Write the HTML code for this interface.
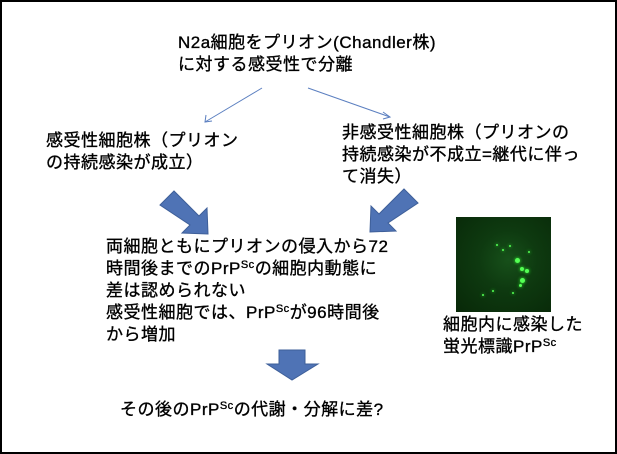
<!DOCTYPE html>
<html><head><meta charset="utf-8"><style>
body{margin:0;width:617px;height:454px;background:#fff;position:relative;overflow:hidden;font-family:"Liberation Sans","Noto Sans CJK JP",sans-serif;}
.frame{position:absolute;left:0;top:0;width:613px;height:450px;border:2px solid #000;}
.t{position:absolute;font-size:17px;line-height:22px;color:#000;white-space:nowrap;letter-spacing:0.5px;-webkit-text-stroke:0.35px #000;}
sup{font-size:11px;line-height:0;vertical-align:6px;}
.img{position:absolute;left:456px;top:217px;width:95px;height:95px;background:radial-gradient(circle at 55% 45%,#17501a 0%,#0e3a10 40%,#082808 100%);}
.dot{position:absolute;border-radius:50%;background:#5f5;box-shadow:0 0 3px #3f3;}
</style></head><body>
<div class="frame"></div>
<svg width="617" height="454" style="position:absolute;left:0;top:0">
<g stroke="#5b7fc0" stroke-width="1" fill="none">
<line x1="262" y1="88" x2="205" y2="122"/><polyline points="206,115 205,122 212,121"/>
<line x1="308" y1="88" x2="390" y2="117"/><polyline points="383,112 390,117 383,119"/>
</g>
<g fill="#4f73b5" stroke="#3e5f99" stroke-width="1">
<polygon points="160,205 174,191 199,216 207,208 208,234 182,233 190,225"/>
<polygon points="418,203 404,189 379,214 371,206 370,232 396,231 388,223"/>
<polygon points="279,350 305,350 305,364 318,364 292,380 267,364 279,364"/>
</g>
</svg>
<div class="t" style="left:178px;top:32px;">N2a細胞をプリオン(Chandler株)<br>に対する感受性で分離</div>
<div class="t" style="left:46px;top:130px;">感受性細胞株（プリオン<br>の持続感染が成立）</div>
<div class="t" style="left:342px;top:122px;">非感受性細胞株（プリオンの<br>持続感染が不成立=継代に伴っ<br>て消失）</div>
<div class="t" style="left:106px;top:236px;">両細胞ともにプリオンの侵入から72<br>時間後までのPrP<sup>Sc</sup>の細胞内動態に<br>差は認められない<br>感受性細胞では、PrP<sup>Sc</sup>が96時間後<br>から増加</div>
<div class="t" style="left:443px;top:314px;">細胞内に感染した<br>蛍光標識PrP<sup>Sc</sup></div>
<div class="t" style="left:120px;top:399px;">その後のPrP<sup>Sc</sup>の代謝・分解に差?</div>
<div class="img">
<div class="dot" style="left:59px;top:41px;width:5px;height:5px"></div>
<div class="dot" style="left:64px;top:50px;width:4px;height:4px"></div>
<div class="dot" style="left:69px;top:52px;width:4px;height:4px"></div>
<div class="dot" style="left:64px;top:61px;width:5px;height:5px"></div>
<div class="dot" style="left:63px;top:67px;width:3px;height:3px"></div>
<div class="dot" style="left:40px;top:27px;width:2px;height:2px"></div>
<div class="dot" style="left:46px;top:32px;width:2px;height:2px"></div>
<div class="dot" style="left:53px;top:28px;width:2px;height:2px"></div>
<div class="dot" style="left:72px;top:34px;width:2px;height:2px"></div>
<div class="dot" style="left:26px;top:77px;width:2px;height:2px"></div>
<div class="dot" style="left:36px;top:73px;width:2px;height:2px"></div>
<div class="dot" style="left:56px;top:75px;width:2px;height:2px"></div>
</div>
</body></html>
